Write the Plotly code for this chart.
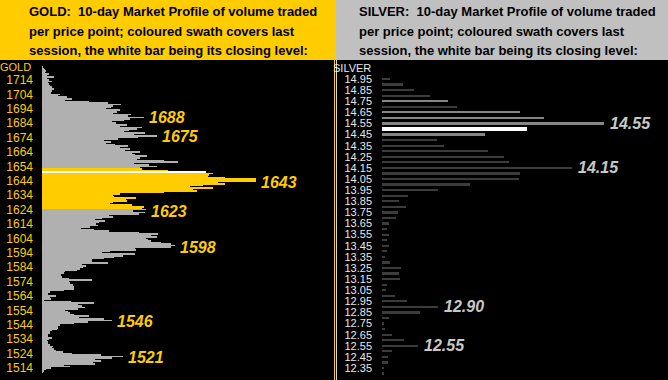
import plotly.graph_objects as go

# ---------------- DATA ----------------
gold_prices = list(range(1723, 1509, -1))  # 1723 down to 1510
gold_volume = [
    1, 2, 3, 4, 3, 7, 5, 12, 5, 7,            # 1723-1714
    10, 6, 7, 8, 10, 12, 10, 10, 9, 18,       # 1713-1704
    16, 25, 30, 23, 47, 66, 79, 71, 69, 64,   # 1703-1694
    78, 75, 71, 89, 86, 102, 88, 82, 70, 74,  # 1693-1684
    85, 78, 100, 95, 87, 82, 103, 92, 115, 96,  # 1683-1674
    76, 62, 69, 64, 73, 86, 78, 88, 83, 98,   # 1673-1664
    90, 93, 105, 98, 95, 122, 136, 92, 107, 115,  # 1663-1654
    98, 100, 126, 164, 171, 167, 166, 183, 214, 214,  # 1653-1644
    176, 183, 161, 148, 171, 151, 155, 122, 78, 71,   # 1643-1634
    72, 94, 84, 85, 71, 68, 90, 102, 100, 104,  # 1633-1624
    91, 103, 97, 67, 71, 60, 53, 63, 57, 54,    # 1623-1614
    56, 48, 39, 52, 67, 97, 116, 109, 115, 104, # 1613-1604
    106, 109, 119, 129, 133, 129, 93, 94, 68, 60,  # 1603-1594
    93, 81, 72, 62, 50, 50, 66, 40, 44, 41,     # 1593-1584
    38, 35, 23, 22, 19, 19, 20, 27, 50, 27,     # 1583-1574
    28, 31, 31, 32, 32, 22, 8, 6, 6, 14,        # 1573-1564
    8, 9, 2, 29, 52, 36, 40, 43, 36, 23,        # 1563-1554
    26, 28, 32, 47, 37, 62, 70, 46, 32, 18,     # 1553-1544
    16, 16, 15, 10, 8, 8, 6, 6, 10, 7,          # 1543-1534
    5, 6, 6, 8, 11, 10, 12, 14, 21, 30,         # 1533-1524
    59, 81, 70, 53, 59, 51, 53, 22, 28, 9,      # 1523-1514
    4, 2, 1,                                    # 1513-1511
]
gold_volume = gold_volume[:len(gold_prices)]
gold_session_high = 1652
gold_session_low = 1625
gold_close = 1650
gold_ticks = list(range(1514, 1715, 10))
gold_labels = [1688, 1675, 1643, 1623, 1598, 1546, 1521]

silver_prices = [14.95, 14.90, 14.85, 14.80, 14.75, 14.70, 14.65, 14.60, 14.55, 14.50,
                 14.45, 14.40, 14.35, 14.30, 14.25, 14.20, 14.15, 14.10, 14.05, 14.00,
                 13.95, 13.90, 13.85, 13.80, 13.75, 13.70, 13.65, 13.60, 13.55, 13.50,
                 13.45, 13.40, 13.35, 13.30, 13.25, 13.20, 13.15, 13.10, 13.05, 13.00,
                 12.95, 12.90, 12.85, 12.80, 12.75, 12.70, 12.65, 12.60, 12.55, 12.50,
                 12.45, 12.40, 12.35, 12.30]
silver_volume = [8, 21, 32, 48, 66, 75, 138, 162, 222, 145,
                 103, 55, 62, 106, 122, 127, 190, 138, 137, 88,
                 56, 26, 17, 24, 16, 14, 7, 5, 7, 5,
                 7, 5, 3, 8, 19, 17, 18, 5, 4, 13,
                 25, 56, 38, 7, 2, 3, 10, 22, 36, 10,
                 6, 6, 2, 2]
silver_swath = [14.75, 14.65, 14.60, 14.55, 14.45]
silver_close = 14.50
silver_ticks = [round(12.35 + 0.1 * i, 2) for i in range(27)]
silver_labels = [14.55, 14.15, 12.90, 12.55]

# ---------------- STYLE ----------------
W, H = 668, 380
YEL = "#FFCC00"
GOLD_GRAY = "#b0b0b0"
SIL_DARK = "#3c3c3c"
SIL_LIGHT = "#858585"
TOP = 60  # px where plot area starts
FONT = "Liberation Sans, Arial, sans-serif"


def gold_color(p):
    if p == gold_close:
        return "#ffffff"
    if gold_session_low <= p <= gold_session_high:
        return YEL
    return GOLD_GRAY


def silver_color(p):
    if abs(p - silver_close) < 1e-9:
        return "#ffffff"
    if any(abs(p - s) < 1e-9 for s in silver_swath):
        return SIL_LIGHT
    return SIL_DARK


fig = go.Figure()

fig.add_trace(go.Bar(
    x=gold_volume, y=gold_prices, orientation="h",
    marker=dict(color=[gold_color(p) for p in gold_prices], line=dict(width=0)),
    width=0.55, xaxis="x", yaxis="y", showlegend=False, hoverinfo="skip",
))

fig.add_trace(go.Bar(
    x=silver_volume, y=silver_prices, orientation="h",
    marker=dict(color=[silver_color(p) for p in silver_prices], line=dict(width=0)),
    width=[0.028 if abs(p - silver_close) < 1e-9 else 0.02 for p in silver_prices],
    xaxis="x2", yaxis="y2", showlegend=False, hoverinfo="skip",
))

# gold axis geometry: 1714 at y=80, 1514 at y=368
g_ppu = (368 - 80) / 200.0
g_top = 1714 + (80 - TOP) / g_ppu
g_bot = 1714 - (H - 80) / g_ppu
# silver geometry: 14.95 at y=79, 12.35 at y=368
s_ppu = (368 - 79) / 2.6
s_top = 14.95 + (79 - TOP) / s_ppu
s_bot = 14.95 - (H - 79) / s_ppu

gx0, gx1 = 42, 333
sx0, sx1 = 382, 668
dom_y = [0, (H - TOP) / H]

fig.update_layout(
    template="none",
    width=W, height=H,
    margin=dict(l=0, r=0, t=0, b=0, pad=0, autoexpand=False),
    paper_bgcolor="#000000", plot_bgcolor="#000000",
    bargap=0,
    xaxis=dict(domain=[gx0 / W, gx1 / W], range=[0, gx1 - gx0], visible=False,
               fixedrange=True, automargin=False),
    yaxis=dict(domain=dom_y, range=[g_bot, g_top], anchor="x", automargin=False,
               tickvals=gold_ticks, ticktext=[str(t) for t in gold_ticks],
               tickfont=dict(family=FONT, size=12, color=YEL),
               showgrid=False, zeroline=False, showline=False, ticks="",
               ticklabelstandoff=8),
    xaxis2=dict(domain=[sx0 / W, 1], range=[0, sx1 - sx0], visible=False, fixedrange=True,
                anchor="y2", automargin=False),
    yaxis2=dict(domain=dom_y, range=[s_bot, s_top], anchor="x2", automargin=False,
                tickvals=silver_ticks, ticktext=["%.2f" % t for t in silver_ticks],
                tickfont=dict(family=FONT, size=11, color="#e8e8e8"),
                showgrid=False, zeroline=False, showline=False, ticks="",
                ticklabelstandoff=9),
)

shapes = [
    dict(type="rect", xref="paper", yref="paper", x0=0, x1=336 / W, y0=(H - TOP) / H, y1=1,
         fillcolor=YEL, line=dict(width=0), layer="below"),
    dict(type="rect", xref="paper", yref="paper", x0=336 / W, x1=1, y0=(H - TOP) / H, y1=1,
         fillcolor="#c0c0c0", line=dict(width=0), layer="below"),
    dict(type="line", xref="paper", yref="paper", x0=334.5 / W, x1=334.5 / W, y0=0, y1=(H - TOP) / H,
         line=dict(color=YEL, width=1)),
    dict(type="line", xref="paper", yref="paper", x0=336.5 / W, x1=336.5 / W, y0=0, y1=(H - TOP) / H,
         line=dict(color="#d8d8d8", width=1)),
]
fig.update_layout(shapes=shapes)

ann = []
title_font = dict(family=FONT, size=13, color="#000000")
gold_title = ["<b>GOLD:  10-day Market Profile of volume traded</b>",
              "<b>per price point; coloured swath covers last</b>",
              "<b>session, the white bar being its closing level:</b>"]
silver_title = ["<b>SILVER:  10-day Market Profile of volume traded</b>",
                "<b>per price point; coloured swath covers last</b>",
                "<b>session, the white bar being its closing level:</b>"]
line_y = [11.7, 31, 50.3]
for i, t in enumerate(gold_title):
    ann.append(dict(text=t, xref="paper", yref="paper", x=26.5 / W, y=1 - line_y[i] / H,
                    xanchor="left", yanchor="middle", showarrow=False, font=title_font))
for i, t in enumerate(silver_title):
    ann.append(dict(text=t, xref="paper", yref="paper", x=357 / W, y=1 - line_y[i] / H,
                    xanchor="left", yanchor="middle", showarrow=False, font=title_font))

ann.append(dict(text="GOLD", xref="paper", yref="paper", x=33 / W, y=1 - 66.5 / H,
                xanchor="right", yanchor="middle", showarrow=False,
                font=dict(family=FONT, size=11, color=YEL)))
ann.append(dict(text="SILVER", xref="paper", yref="paper", x=373 / W, y=1 - 68 / H,
                xanchor="right", yanchor="middle", showarrow=False,
                font=dict(family=FONT, size=11, color="#e8e8e8")))

gvol = dict(zip(gold_prices, gold_volume))
for p in gold_labels:
    peak = max(gvol.get(q, 0) for q in range(p - 1, p + 3))
    ann.append(dict(text="<b><i>%d</i></b>" % p, x=peak, y=p, xref="x", yref="y",
                    xanchor="left", yanchor="middle", showarrow=False, xshift=3,
                    font=dict(family=FONT, size=16, color=YEL)))
svol = {round(p, 2): v for p, v in zip(silver_prices, silver_volume)}
for p in silver_labels:
    ann.append(dict(text="<b><i>%.2f</i></b>" % p, x=svol[round(p, 2)], y=p, xref="x2", yref="y2",
                    xanchor="left", yanchor="middle", showarrow=False, xshift=4,
                    font=dict(family=FONT, size=16, color="#c8c8c8")))
fig.update_layout(annotations=ann)

fig.write_html("out.html", config={"displayModeBar": False},
               post_script="document.body.style.margin='0';document.body.style.overflow='hidden';")
